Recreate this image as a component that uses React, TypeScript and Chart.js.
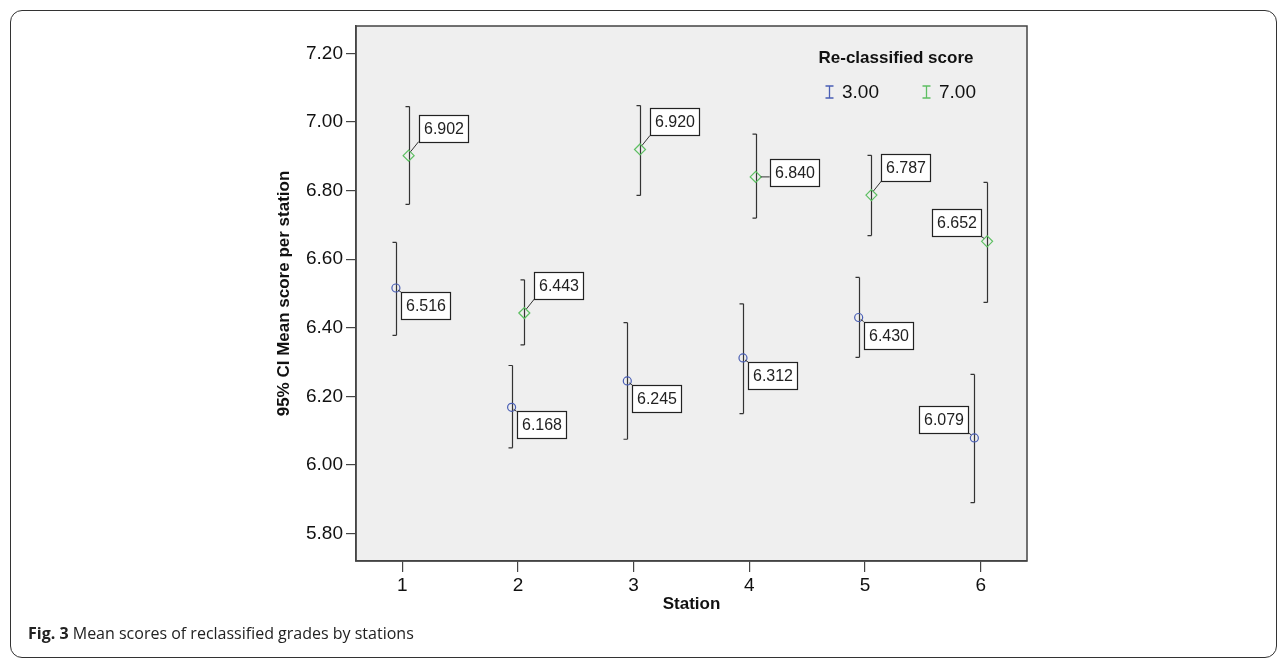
import React, { useEffect, useRef } from "react";
import { Chart, registerables } from "chart.js";
Chart.register(...registerables);

// ---- data ----
const stations = [1, 2, 3, 4, 5, 6];
const blueMean = [6.516, 6.168, 6.245, 6.312, 6.43, 6.079];
const blueLow = [6.378, 6.05, 6.075, 6.15, 6.314, 5.89];
const blueHigh = [6.649, 6.29, 6.415, 6.47, 6.547, 6.264];
const greenMean = [6.902, 6.443, 6.92, 6.84, 6.787, 6.652];
const greenLow = [6.76, 6.35, 6.786, 6.72, 6.669, 6.474];
const greenHigh = [7.045, 6.54, 7.048, 6.965, 6.903, 6.824];
const blueLabelSide = ["lr", "lr", "lr", "lr", "lr", "ul"];
const greenLabelSide = ["ur", "ur", "ur", "r", "ur", "ul"];
const yTicks = [5.8, 6.0, 6.2, 6.4, 6.6, 6.8, 7.0, 7.2];
const xTicks = [1, 2, 3, 4, 5, 6];
const legendTitle = "Re-classified score";
const seriesNames = ["3.00", "7.00"];
const xTitle = "Station";
const yTitle = "95% CI Mean score per station";
const captionBold = "Fig. 3";
const captionText = " Mean scores of reclassified grades by stations";

const BLUE = "#4a5fb5";
const GREEN = "#5dbf62";
const DARK = "#333333";
const DODGE = 0.055;
const FONT = "'Liberation Sans', Arial, sans-serif";

export default function App() {
  const ref = useRef<HTMLCanvasElement | null>(null);

  useEffect(() => {
    const canvas = ref.current;
    if (!canvas) return;

    const overlay = {
      id: "overlay",
      beforeDraw(chart: any) {
        const { ctx, chartArea } = chart;
        ctx.save();
        ctx.fillStyle = "#efefef";
        ctx.fillRect(chartArea.left, chartArea.top, chartArea.right - chartArea.left, chartArea.bottom - chartArea.top);
        ctx.restore();
      },
      beforeDatasetsDraw(chart: any) {
        const { ctx, scales } = chart;
        const xs = scales.x;
        const ys = scales.y;
        ctx.save();
        ctx.strokeStyle = DARK;
        ctx.lineWidth = 1.2;
        const drawBar = (xv: number, lo: number, hi: number) => {
          const px = Math.round(xs.getPixelForValue(xv)) + 0.5;
          const pl = ys.getPixelForValue(lo);
          const ph = ys.getPixelForValue(hi);
          ctx.beginPath();
          ctx.moveTo(px, ph);
          ctx.lineTo(px, pl);
          ctx.moveTo(px - 4, ph);
          ctx.lineTo(px, ph);
          ctx.moveTo(px - 4, pl);
          ctx.lineTo(px, pl);
          ctx.stroke();
        };
        stations.forEach((s, i) => {
          drawBar(s - DODGE, blueLow[i], blueHigh[i]);
          drawBar(s + DODGE, greenLow[i], greenHigh[i]);
        });
        ctx.restore();
      },
      afterDraw(chart: any) {
        const { ctx, chartArea, scales } = chart;
        const xs = scales.x;
        const ys = scales.y;
        ctx.save();
        // plot frame
        ctx.strokeStyle = "#444";
        ctx.lineWidth = 1.5;
        ctx.strokeRect(chartArea.left, chartArea.top, chartArea.right - chartArea.left, chartArea.bottom - chartArea.top);

        // value labels
        ctx.font = "16px " + FONT;
        const drawLabel = (xv: number, yv: number, side: string) => {
          const px = xs.getPixelForValue(xv);
          const py = ys.getPixelForValue(yv);
          const txt = yv.toFixed(3);
          const w = Math.ceil(ctx.measureText(txt).width) + 8;
          const h = 27;
          let bx = 0, by = 0, cx0 = px, cy0 = py, cx1 = 0, cy1 = 0;
          if (side === "ur") {
            bx = px + 10; by = py - 14 - h; cx0 = px + 2; cy0 = py - 4; cx1 = bx; cy1 = by + h;
          } else if (side === "lr") {
            bx = px + 5; by = py + 4; cx0 = px + 2; cy0 = py + 2; cx1 = bx; cy1 = by;
          } else if (side === "ul") {
            bx = px - 6 - w; by = py - 5 - h; cx0 = px - 3; cy0 = py - 3; cx1 = bx + w; cy1 = by + h;
          } else {
            bx = px + 14; by = py - 4 - h / 2; cx0 = px + 5; cy0 = py; cx1 = bx; cy1 = by + h / 2 + 4;
          }
          ctx.strokeStyle = DARK;
          ctx.lineWidth = 1;
          ctx.beginPath();
          ctx.moveTo(cx0, cy0);
          ctx.lineTo(cx1, cy1);
          ctx.stroke();
          ctx.fillStyle = "#ffffff";
          ctx.fillRect(Math.round(bx) + 0.5, Math.round(by) + 0.5, w, h);
          ctx.strokeStyle = "#222";
          ctx.lineWidth = 1.2;
          ctx.strokeRect(Math.round(bx) + 0.5, Math.round(by) + 0.5, w, h);
          ctx.fillStyle = "#222";
          ctx.textAlign = "center";
          ctx.textBaseline = "middle";
          ctx.fillText(txt, Math.round(bx) + w / 2 + 0.5, Math.round(by) + h / 2 + 1.5);
        };
        stations.forEach((s, i) => {
          drawLabel(s - DODGE, blueMean[i], blueLabelSide[i]);
          drawLabel(s + DODGE, greenMean[i], greenLabelSide[i]);
        });

        // axis titles
        ctx.fillStyle = "#111";
        ctx.font = "bold 17px " + FONT;
        ctx.textAlign = "center";
        ctx.textBaseline = "middle";
        ctx.fillText(xTitle, (chartArea.left + chartArea.right) / 2, 604);
        ctx.save();
        ctx.translate(284, (chartArea.top + chartArea.bottom) / 2);
        ctx.rotate(-Math.PI / 2);
        ctx.fillText(yTitle, 0, 0);
        ctx.restore();

        // legend
        ctx.font = "bold 17px " + FONT;
        ctx.textAlign = "center";
        ctx.fillText(legendTitle, 896, 58);
        const colors = [BLUE, GREEN];
        const lx = [829, 926];
        seriesNames.forEach((n, k) => {
          const x = lx[k] + 0.5;
          ctx.strokeStyle = colors[k];
          ctx.lineWidth = 1.3;
          ctx.beginPath();
          ctx.moveTo(x, 86);
          ctx.lineTo(x, 98);
          ctx.moveTo(x - 4, 86);
          ctx.lineTo(x + 4, 86);
          ctx.moveTo(x - 4, 98);
          ctx.lineTo(x + 4, 98);
          ctx.stroke();
          ctx.fillStyle = "#111";
          ctx.font = "19px " + FONT;
          ctx.textAlign = "left";
          ctx.fillText(n, lx[k] + 13, 93);
        });
        ctx.restore();
      },
    };

    const chart = new Chart(canvas, {
      type: "scatter",
      data: {
        datasets: [
          {
            label: seriesNames[0],
            data: stations.map((s, i) => ({ x: s - DODGE, y: blueMean[i] })),
            pointStyle: "circle",
            pointRadius: 4,
            borderColor: BLUE,
            backgroundColor: "rgba(0,0,0,0)",
            borderWidth: 1.2,
          },
          {
            label: seriesNames[1],
            data: stations.map((s, i) => ({ x: s + DODGE, y: greenMean[i] })),
            pointStyle: "rectRot",
            pointRadius: 5.5,
            borderColor: GREEN,
            backgroundColor: "rgba(0,0,0,0)",
            borderWidth: 1.2,
          },
        ],
      },
      options: {
        animation: false,
        responsive: false,
        devicePixelRatio: 1,
        layout: { padding: { left: 256, top: 26, right: 260, bottom: 49 } },
        plugins: { legend: { display: false }, tooltip: { enabled: false } },
        scales: {
          x: {
            type: "linear",
            min: 0.6,
            max: 6.4,
            afterBuildTicks: (axis: any) => {
              axis.ticks = xTicks.map((v) => ({ value: v }));
            },
            afterFit: (axis: any) => {
              axis.height = 50;
            },
            ticks: {
              color: "#111",
              font: { family: FONT, size: 19 },
              padding: 2,
              callback: (v: any) => String(v),
              maxRotation: 0,
              autoSkip: false,
            },
            grid: { drawOnChartArea: false, drawTicks: true, tickLength: 11, color: "#444", lineWidth: 1.2 },
            border: { display: true, color: "#444", width: 1.5 },
          },
          y: {
            type: "linear",
            min: 5.72,
            max: 7.28,
            afterBuildTicks: (axis: any) => {
              axis.ticks = yTicks.map((v) => ({ value: v }));
            },
            afterFit: (axis: any) => {
              axis.width = 100;
            },
            ticks: {
              color: "#111",
              font: { family: FONT, size: 19 },
              padding: 3,
              callback: (v: any) => Number(v).toFixed(2),
              autoSkip: false,
            },
            grid: { drawOnChartArea: false, drawTicks: true, tickLength: 10, color: "#444", lineWidth: 1.2 },
            border: { display: true, color: "#444", width: 1.5 },
          },
        },
      },
      plugins: [overlay],
    });

    return () => chart.destroy();
  }, []);

  return (
    <div style={{ position: "fixed", left: 0, top: 0, width: 1287, height: 660, background: "#fff", overflow: "hidden" }}>
      <div
        style={{
          position: "absolute",
          left: 10,
          top: 10,
          width: 1267,
          height: 648,
          border: "1.5px solid #333",
          borderRadius: 12,
          boxSizing: "border-box",
        }}
      />
      <canvas ref={ref} width={1287} height={660} style={{ position: "absolute", left: 0, top: 0, width: 1287, height: 660 }} />
      <div
        style={{
          position: "absolute",
          left: 28,
          top: 622,
          fontFamily: "'Open Sans', sans-serif",
          fontSize: 16,
          lineHeight: "22px",
          color: "#222",
          whiteSpace: "nowrap",
        }}
      >
        <b>{captionBold}</b>
        {captionText}
      </div>
    </div>
  );
}
